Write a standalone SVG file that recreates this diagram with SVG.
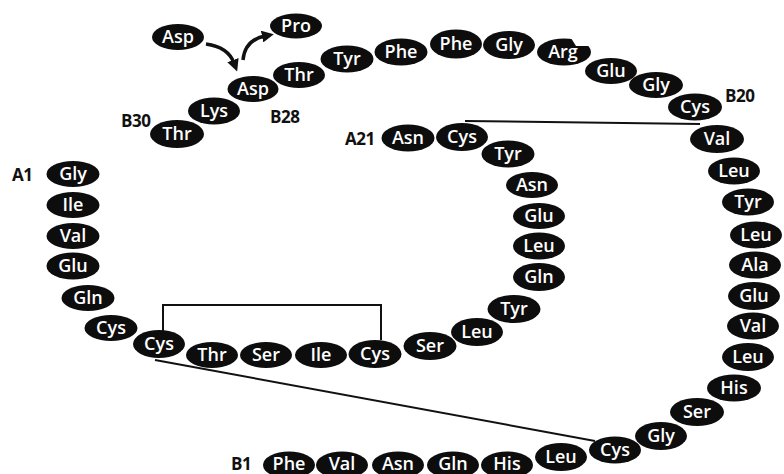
<svg xmlns="http://www.w3.org/2000/svg" width="784" height="474" viewBox="0 0 784 474">
<defs>
<style>
.n ellipse,.n path{fill:#0d0d0d}
.n text{fill:#fff;font-family:"Open Sans","Noto Sans",sans-serif;font-size:18px;font-weight:600;text-anchor:middle}
.lbl{fill:#111;font-family:"Open Sans","Noto Sans",sans-serif;font-size:17px;font-weight:700;letter-spacing:-0.5px}
.ss{stroke:#111;stroke-width:2;fill:none}
.arw{stroke:#111;stroke-width:3.5;fill:none}
</style>
<marker id="ah" markerUnits="userSpaceOnUse" markerWidth="12" markerHeight="12" refX="3" refY="6" orient="auto">
<path d="M0,0 L12,6 L0,12 z" fill="#111"/>
</marker>
<clipPath id="notch"><polygon points="530,30 566,30 576,46 600,46 600,75 530,75"/></clipPath>
</defs>
<rect width="784" height="474" fill="#fff"/>
<g id="connectors">
<path class="ss" d="M163,332 V305 H381 V340"/>
<path class="ss" d="M465,121 L700,124"/>
<path class="ss" d="M155,360 L595,441"/>
<path class="arw" d="M206,44 Q228,47 234,63" marker-end="url(#ah)"/>
<path class="arw" d="M243,60 Q245,40 265,36" marker-end="url(#ah)"/>
</g>
<g id="labels">
<text class="lbl" x="121" y="127">B30</text>
<text class="lbl" x="270" y="123">B28</text>
<text class="lbl" x="345" y="145">A21</text>
<text class="lbl" x="725" y="102">B20</text>
<text class="lbl" x="12" y="181">A1</text>
<text class="lbl" x="231" y="470">B1</text>
</g>
<g id="free">
<g class="n" id="asp-free"><ellipse cx="178" cy="37" rx="26" ry="13"/><text x="178" y="43">Asp</text></g>
<g class="n" id="pro-free"><ellipse cx="296" cy="26" rx="26" ry="12.5"/><text x="296" y="32">Pro</text></g>
</g>
<g id="chainB">
<g class="n" id="B1"><ellipse cx="289" cy="465" rx="26" ry="13.5"/><text x="289" y="470">Phe</text></g>
<g class="n" id="B2"><ellipse cx="342" cy="465" rx="26" ry="13.5"/><text x="342" y="470">Val</text></g>
<g class="n" id="B3"><ellipse cx="398" cy="465" rx="26" ry="13.5"/><text x="398" y="470">Asn</text></g>
<g class="n" id="B4"><ellipse cx="453" cy="465" rx="26" ry="13.5"/><text x="453" y="470">Gln</text></g>
<g class="n" id="B5"><ellipse cx="507" cy="465" rx="26" ry="13.5"/><text x="507" y="470">His</text></g>
<g class="n" id="B6"><ellipse cx="561" cy="457" rx="26" ry="14"/><text x="561" y="463">Leu</text></g>
<g class="n" id="B7"><ellipse cx="615" cy="450" rx="26" ry="13.5"/><text x="615" y="456">Cys</text></g>
<g class="n" id="B8"><ellipse cx="661" cy="436" rx="26" ry="14"/><text x="661" y="442">Gly</text></g>
<g class="n" id="B9"><ellipse cx="697" cy="412" rx="27" ry="14"/><text x="697" y="418">Ser</text></g>
<g class="n" id="B10"><ellipse cx="734" cy="388" rx="27" ry="13.5"/><text x="734" y="394">His</text></g>
<g class="n" id="B11"><ellipse cx="748" cy="357" rx="26" ry="14"/><text x="748" y="363">Leu</text></g>
<g class="n" id="B12"><ellipse cx="753" cy="326" rx="26" ry="13.5"/><text x="753" y="332">Val</text></g>
<g class="n" id="B13"><ellipse cx="754" cy="296" rx="26" ry="14"/><text x="754" y="302">Glu</text></g>
<g class="n" id="B14"><ellipse cx="755" cy="265" rx="26" ry="13.5"/><text x="755" y="271">Ala</text></g>
<g class="n" id="B15"><ellipse cx="756" cy="235" rx="26" ry="13.5"/><text x="756" y="241">Leu</text></g>
<g class="n" id="B16"><ellipse cx="748" cy="202" rx="26" ry="13.5"/><text x="748" y="208">Tyr</text></g>
<g class="n" id="B17"><ellipse cx="734" cy="171" rx="26" ry="13.5"/><text x="734" y="177">Leu</text></g>
<g class="n" id="B18"><ellipse cx="717" cy="139" rx="27" ry="14"/><text x="717" y="145">Val</text></g>
<g class="n" id="B19"><ellipse cx="695" cy="107" rx="27" ry="13.5"/><text x="695" y="113">Cys</text></g>
<g class="n" id="B20"><ellipse cx="656" cy="85" rx="27" ry="13"/><text x="656" y="91">Gly</text></g>
<g class="n" id="B21"><ellipse cx="611" cy="71" rx="26" ry="13"/><text x="611" y="77">Glu</text></g>
<g class="n" id="B22"><ellipse cx="564" cy="52" rx="27" ry="13.5" clip-path="url(#notch)"/><text x="563" y="58">Arg</text></g>
<g class="n" id="B23"><ellipse cx="509" cy="45" rx="26" ry="14"/><text x="509" y="51">Gly</text></g>
<g class="n" id="B24"><ellipse cx="456" cy="44" rx="26" ry="14.5"/><text x="456" y="50">Phe</text></g>
<g class="n" id="B25"><ellipse cx="401" cy="52" rx="26.5" ry="13.5"/><text x="401" y="58">Phe</text></g>
<g class="n" id="B26"><ellipse cx="347" cy="59" rx="26.5" ry="13.5"/><text x="347" y="65">Tyr</text></g>
<g class="n" id="B27"><ellipse cx="299" cy="75" rx="26" ry="13"/><text x="299" y="81">Thr</text></g>
<g class="n" id="B28"><ellipse cx="253" cy="89" rx="25.5" ry="13"/><text x="253" y="95">Asp</text></g>
<g class="n" id="B29"><ellipse cx="214" cy="111" rx="26" ry="13.5"/><text x="214" y="117">Lys</text></g>
<g class="n" id="B30"><ellipse cx="177" cy="134" rx="27" ry="14"/><text x="177" y="140">Thr</text></g>
</g>
<g id="chainA">
<g class="n" id="A1"><ellipse cx="73" cy="174" rx="26.5" ry="13"/><text x="73" y="180">Gly</text></g>
<g class="n" id="A2"><ellipse cx="73" cy="205" rx="26.5" ry="13"/><text x="73" y="211">Ile</text></g>
<g class="n" id="A3"><ellipse cx="73" cy="236" rx="26.5" ry="13"/><text x="73" y="242">Val</text></g>
<g class="n" id="A4"><ellipse cx="73" cy="266" rx="26.5" ry="13.5"/><text x="73" y="272">Glu</text></g>
<g class="n" id="A5"><ellipse cx="88" cy="298" rx="26.5" ry="13"/><text x="88" y="304">Gln</text></g>
<g class="n" id="A6"><ellipse cx="111" cy="328" rx="26.5" ry="13"/><text x="111" y="334">Cys</text></g>
<g class="n" id="A7"><ellipse cx="159" cy="344" rx="26" ry="14"/><text x="159" y="350">Cys</text></g>
<g class="n" id="A8"><ellipse cx="212" cy="355" rx="26" ry="13"/><text x="212" y="361">Thr</text></g>
<g class="n" id="A9"><ellipse cx="266" cy="355" rx="26" ry="13"/><text x="266" y="361">Ser</text></g>
<g class="n" id="A10"><ellipse cx="321" cy="355" rx="26" ry="13"/><text x="321" y="361">Ile</text></g>
<g class="n" id="A11"><ellipse cx="375" cy="354" rx="26.5" ry="14"/><text x="375" y="360">Cys</text></g>
<g class="n" id="A12"><ellipse cx="430" cy="346" rx="26.5" ry="14"/><text x="430" y="352">Ser</text></g>
<g class="n" id="A13"><ellipse cx="477" cy="332" rx="26" ry="14"/><text x="477" y="338">Leu</text></g>
<g class="n" id="A14"><ellipse cx="514" cy="309" rx="26.5" ry="14"/><text x="514" y="315">Tyr</text></g>
<g class="n" id="A15"><ellipse cx="539" cy="277" rx="26" ry="14"/><text x="539" y="283">Gln</text></g>
<g class="n" id="A16"><ellipse cx="539" cy="246" rx="26" ry="13.5"/><text x="539" y="252">Leu</text></g>
<g class="n" id="A17"><ellipse cx="539" cy="216" rx="26" ry="13"/><text x="539" y="222">Glu</text></g>
<g class="n" id="A18"><ellipse cx="532" cy="185" rx="26" ry="13"/><text x="532" y="191">Asn</text></g>
<g class="n" id="A19"><ellipse cx="508" cy="154" rx="26.5" ry="13.5"/><text x="508" y="160">Tyr</text></g>
<g class="n" id="A20"><ellipse cx="462" cy="137" rx="26" ry="14"/><text x="462" y="143">Cys</text></g>
<g class="n" id="A21"><ellipse cx="408" cy="138" rx="26.5" ry="13.5"/><text x="408" y="144">Asn</text></g>
</g>
</svg>
